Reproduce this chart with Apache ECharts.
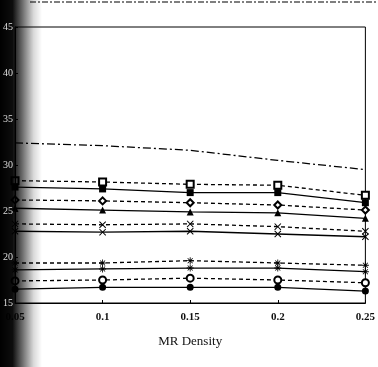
<!DOCTYPE html>
<html lang="en">
  <head>
    <meta charset="UTF-8" />
    <title>MR Density</title>
    <style>
      html, body { margin: 0; padding: 0; background: #fff; }
    </style>
  </head>
  <body>
    <div id="main" style="width: 378px; height: 367px"></div>
    <script src="https://cdn.jsdelivr.net/npm/echarts@6/dist/echarts.min.js"></script>
    <script>
      // x positions (MR density)
      var density = [0.05, 0.1, 0.15, 0.2, 0.25];
      var xTickLabels = ["0.05", "0.1", "0.15", "0.2", "0.25"];
      var yTickLabels = ["15", "20", "25", "30", "35", "40", "45"];

      // values, top curve first
      var dashDot = [32.4, 32.1, 31.6, 30.5, 29.5];
      var sqOpen = [28.3, 28.15, 27.9, 27.8, 26.7];
      var sqFilled = [27.6, 27.4, 27.0, 27.0, 25.9];
      var diaOpen = [26.2, 26.1, 25.9, 25.65, 25.1];
      var triFilled = [25.3, 25.1, 24.9, 24.8, 24.2];
      var crossDash = [23.6, 23.5, 23.6, 23.3, 22.8];
      var crossSolid = [22.8, 22.7, 22.8, 22.5, 22.2];
      var starDash = [19.35, 19.35, 19.6, 19.35, 19.1];
      var starSolid = [18.6, 18.7, 18.8, 18.8, 18.4];
      var circOpen = [17.4, 17.5, 17.7, 17.5, 17.2];
      var circFilled = [16.5, 16.7, 16.7, 16.7, 16.3];

      var crossPath =
        "path://M0,1L1,0L5,4L9,0L10,1L6,5L10,9L9,10L5,6L1,10L0,9L4,5Z";
      var starPath =
        "path://M4.4,0h1.2v10h-1.2zM0,4.4h10v1.2h-10zM1,1.8L1.8,1L9,8.2L8.2,9zM8.2,1L9,1.8L1.8,9L1,8.2z";

      function pairs(vals) {
        return density.map(function (d, i) {
          return [d, vals[i]];
        });
      }

      function line(name, vals, dash, symbol) {
        return {
          name: name,
          type: "line",
          data: pairs(vals),
          symbol: symbol || "none",
          symbolSize: 7,
          showSymbol: !!symbol,
          animation: false,
          lineStyle: { color: "#000", width: 1.3, type: dash },
          // empty* symbols get a white fill and a stroke in this colour
          itemStyle: { color: "#000", borderWidth: 1.2 },
        };
      }

      var myChart = echarts.init(document.getElementById("main"));
      var option = {
        backgroundColor: "#fff",
        animation: false,
        grid: {
          left: 14,
          right: 10,
          top: 27,
          bottom: 64,
          show: true,
          borderColor: "#000",
          borderWidth: 1,
        },
        xAxis: {
          type: "value",
          min: 0.05,
          max: 0.25,
          interval: 0.05,
          name: "MR Density",
          nameLocation: "middle",
          nameGap: 32,
          nameTextStyle: { fontFamily: "Liberation Serif", fontSize: 13, color: "#111" },
          axisLine: { lineStyle: { color: "#000" } },
          axisTick: { inside: true, length: 3, lineStyle: { color: "#000" } },
          splitLine: { show: false },
          axisLabel: {
            margin: 9,
            fontFamily: "Liberation Serif",
            fontWeight: "bold",
            fontSize: 11,
            color: "#111",
            formatter: function (v) {
              var i = Math.round((v - 0.05) / 0.05);
              return xTickLabels[i] || "";
            },
          },
        },
        yAxis: {
          type: "value",
          min: 15,
          max: 45,
          interval: 5,
          z: 10,
          axisLine: { lineStyle: { color: "#000" } },
          axisTick: { inside: true, length: 3, lineStyle: { color: "#000" } },
          splitLine: { show: false },
          axisLabel: {
            margin: 2,
            fontFamily: "Liberation Serif",
            fontSize: 10,
            color: "#ddd",
            formatter: function (v) {
              var i = Math.round((v - 15) / 5);
              return yTickLabels[i] || "";
            },
          },
        },
        graphic: [
          {
            // scanner shadow along the binding
            type: "rect",
            z: 5,
            shape: { x: 0, y: 0, width: 42, height: 367 },
            style: {
              fill: {
                type: "linear",
                x: 0, y: 0, x2: 1, y2: 0,
                colorStops: [
                  { offset: 0, color: "rgba(0,0,0,1)" },
                  { offset: 0.3, color: "rgba(0,0,0,0.95)" },
                  { offset: 0.55, color: "rgba(0,0,0,0.55)" },
                  { offset: 0.8, color: "rgba(0,0,0,0.15)" },
                  { offset: 1, color: "rgba(0,0,0,0)" },
                ],
              },
            },
          },
          {
            // cut-off legend line at the very top
            type: "line",
            z: 4,
            shape: { x1: 30, y1: 2, x2: 378, y2: 2 },
            style: { stroke: "#000", lineWidth: 1.2, lineDash: [6, 2, 2, 2] },
          },
        ],
        series: [
          line("dash-dot", dashDot, [8, 3, 2, 3]),
          line("sq open", sqOpen, [4, 3], "emptyRect"),
          line("sq filled", sqFilled, "solid", "rect"),
          line("diamond open", diaOpen, [4, 3], "emptyDiamond"),
          line("triangle", triFilled, "solid", "triangle"),
          line("cross dash", crossDash, [4, 3], crossPath),
          line("cross solid", crossSolid, "solid", crossPath),
          line("star dash", starDash, [4, 3], starPath),
          line("star solid", starSolid, "solid", starPath),
          line("circle open", circOpen, [4, 3], "emptyCircle"),
          line("circle filled", circFilled, "solid", "circle"),
        ],
      };
      myChart.setOption(option);
    </script>
  </body>
</html>
